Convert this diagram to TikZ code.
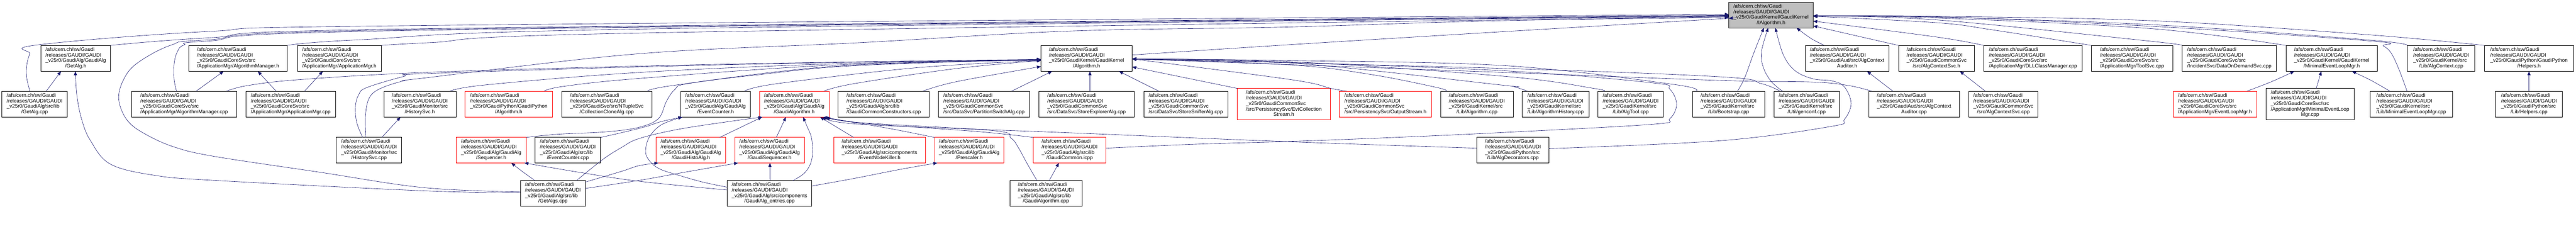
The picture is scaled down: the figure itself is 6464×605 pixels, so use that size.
\documentclass[tikz,border=0pt]{standalone}
\usepackage{fontspec}
\setmainfont{Liberation Sans}
\usetikzlibrary{arrows.meta}
\definecolor{edgeblue}{HTML}{191970}
\definecolor{rootgray}{HTML}{BFBFBF}
\newcommand\nodefont{\fontsize{12.8}{13.9}\selectfont}
% name, x1, x2, y1, y2, style, middle line(s), last (centred) line
\newcommand\depbox[8]{\node[#6, minimum width={(#3-#2)*1pt}, minimum height={(#5-#4)*1pt}] (#1) at ({(#2+#3)/2},{(#4+#5)/2}) {\begin{tabular}{@{}l@{}}/afs/cern.ch/sw/Gaudi\\/releases/GAUDI/GAUDI\\#7\\\multicolumn{1}{@{}c@{}}{#8}\end{tabular}};}
\tikzset{
  box/.style={draw=black, line width=1pt, inner sep=0pt, outer sep=0pt, font=\nodefont, text=black},
  redbox/.style={box, draw=red},
  rootbox/.style={box, fill=rootgray},
  dep/.style={draw=edgeblue, line width=0.8pt, -{Triangle[length=10pt,width=8pt]}}
}
\begin{document}
\begin{tikzpicture}[x=1pt,y=-1pt]
\useasboundingbox (0,0) rectangle (6464,605);
\fill[white] (0,0) rectangle (6464,605);

% ---------- nodes ----------
\depbox{root}{4338}{4550}{6}{70}{rootbox}{\_v25r0/GaudiKernel/GaudiKernel}{/IAlgorithm.h}
% row 1
\depbox{getalgh}{103}{277}{114}{179}{box}{\_v25r0/GaudiAlg/GaudiAlg}{/GetAlg.h}
\depbox{algmgrh}{474}{721}{114}{179}{box}{\_v25r0/GaudiCoreSvc/src}{/ApplicationMgr/AlgorithmManager.h}
\depbox{appmgrh}{746}{957}{114}{179}{box}{\_v25r0/GaudiCoreSvc/src}{/ApplicationMgr/ApplicationMgr.h}
\depbox{algh}{2612}{2841}{114}{179}{box}{\_v25r0/GaudiKernel/GaudiKernel}{/Algorithm.h}
\depbox{acaudh}{4530}{4740}{114}{179}{box}{\_v25r0/GaudiAud/src/AlgContext}{Auditor.h}
\depbox{acsvch}{4764}{4955}{114}{179}{box}{\_v25r0/GaudiCommonSvc}{/src/AlgContextSvc.h}
\depbox{dll}{4978}{5225}{114}{179}{box}{\_v25r0/GaudiCoreSvc/src}{/ApplicationMgr/DLLClassManager.cpp}
\depbox{toolsvc}{5248}{5452}{114}{179}{box}{\_v25r0/GaudiCoreSvc/src}{/ApplicationMgr/ToolSvc.cpp}
\depbox{dod}{5476}{5712}{114}{179}{box}{\_v25r0/GaudiCoreSvc/src}{/IncidentSvc/DataOnDemandSvc.cpp}
\depbox{melmh}{5736}{5966}{114}{179}{box}{\_v25r0/GaudiKernel/GaudiKernel}{/MinimalEventLoopMgr.h}
\depbox{actx}{6041}{6210}{114}{179}{box}{\_v25r0/GaudiKernel/src}{/Lib/AlgContext.cpp}
\depbox{helpersh}{6234}{6458}{114}{179}{box}{\_v25r0/GaudiPython/GaudiPython}{/Helpers.h}
% row 2
\depbox{getalgcpp}{5}{169}{229}{294}{box}{\_v25r0/GaudiAlg/src/lib}{/GetAlg.cpp}
\depbox{algmgrcpp}{330}{594}{229}{294}{box}{\_v25r0/GaudiCoreSvc/src}{/ApplicationMgr/AlgorithmManager.cpp}
\depbox{appmgrcpp}{617}{842}{229}{294}{box}{\_v25r0/GaudiCoreSvc/src}{/ApplicationMgr/ApplicationMgr.cpp}
\depbox{histh}{963}{1144}{229}{294}{box}{\_v25r0/GaudiMonitor/src}{/HistorySvc.h}
\depbox{pyalgh}{1167}{1386}{229}{294}{redbox}{\_v25r0/GaudiPython/GaudiPython}{/Algorithm.h}
\depbox{clone}{1409}{1636}{229}{294}{box}{\_v25r0/GaudiSvc/src/NTupleSvc}{/CollectionCloneAlg.cpp}
\depbox{evcnth}{1708}{1883}{229}{294}{box}{\_v25r0/GaudiAlg/GaudiAlg}{/EventCounter.h}
\depbox{gah}{1906}{2080}{229}{294}{redbox}{\_v25r0/GaudiAlg/GaudiAlg}{/GaudiAlgorithm.h}
\depbox{gcc}{2103}{2332}{229}{294}{box}{\_v25r0/GaudiAlg/src/lib}{/GaudiCommonConstructors.cpp}
\depbox{psa}{2355}{2583}{229}{294}{box}{\_v25r0/GaudiCommonSvc}{/src/DataSvc/PartitionSwitchAlg.cpp}
\depbox{sea}{2607}{2846}{229}{294}{box}{\_v25r0/GaudiCommonSvc}{/src/DataSvc/StoreExplorerAlg.cpp}
\depbox{ssa}{2870}{3081}{229}{294}{box}{\_v25r0/GaudiCommonSvc}{/src/DataSvc/StoreSnifferAlg.cpp}
\depbox{ecs}{3105}{3338}{222}{301}{redbox}{\_v25r0/GaudiCommonSvc\\/src/PersistencySvc/EvtCollection}{Stream.h}
\depbox{os}{3361}{3592}{229}{294}{redbox}{\_v25r0/GaudiCommonSvc}{/src/PersistencySvc/OutputStream.h}
\depbox{algcpp}{3615}{3797}{229}{294}{box}{\_v25r0/GaudiKernel/src}{/Lib/Algorithm.cpp}
\depbox{ahist}{3820}{3987}{229}{294}{box}{\_v25r0/GaudiKernel/src}{/Lib/AlgorithmHistory.cpp}
\depbox{algtool}{4010}{4174}{229}{294}{box}{\_v25r0/GaudiKernel/src}{/Lib/AlgTool.cpp}
\depbox{boot}{4247}{4428}{229}{294}{box}{\_v25r0/GaudiKernel/src}{/Lib/Bootstrap.cpp}
\depbox{genconf}{4451}{4616}{229}{294}{box}{\_v25r0/GaudiKernel/src}{/Util/genconf.cpp}
\depbox{acaudcpp}{4689}{4917}{229}{294}{box}{\_v25r0/GaudiAud/src/AlgContext}{Auditor.cpp}
\depbox{acsvccpp}{4940}{5114}{229}{294}{box}{\_v25r0/GaudiCommonSvc}{/src/AlgContextSvc.cpp}
\depbox{elmh}{5453}{5663}{229}{294}{redbox}{\_v25r0/GaudiCoreSvc/src}{/ApplicationMgr/EventLoopMgr.h}
\depbox{melmcpp}{5686}{5907}{222}{301}{box}{\_v25r0/GaudiCoreSvc/src\\/ApplicationMgr/MinimalEventLoop}{Mgr.cpp}
\depbox{melmlib}{5947}{6154}{229}{294}{box}{\_v25r0/GaudiKernel/src}{/Lib/MinimalEventLoopMgr.cpp}
\depbox{helperscpp}{6262}{6430}{229}{294}{box}{\_v25r0/GaudiPython/src}{/Lib/Helpers.cpp}
% row 3
\depbox{histcpp}{844}{1008}{345}{409}{box}{\_v25r0/GaudiMonitor/src}{/HistorySvc.cpp}
\depbox{seqh}{1145}{1320}{345}{409}{redbox}{\_v25r0/GaudiAlg/GaudiAlg}{/Sequencer.h}
\depbox{evcntcpp}{1343}{1507}{345}{409}{box}{\_v25r0/GaudiAlg/src/lib}{/EventCounter.cpp}
\depbox{gha}{1646}{1821}{345}{409}{redbox}{\_v25r0/GaudiAlg/GaudiAlg}{/GaudiHistoAlg.h}
\depbox{gseq}{1844}{2018}{345}{409}{redbox}{\_v25r0/GaudiAlg/GaudiAlg}{/GaudiSequencer.h}
\depbox{enk}{2092}{2322}{345}{409}{redbox}{\_v25r0/GaudiAlg/src/components}{/EventNodeKiller.h}
\depbox{presc}{2345}{2519}{345}{409}{redbox}{\_v25r0/GaudiAlg/GaudiAlg}{/Prescaler.h}
\depbox{gcicpp}{2593}{2775}{345}{409}{redbox}{\_v25r0/GaudiAlg/src/lib}{/GaudiCommon.icpp}
\depbox{algdec}{3706}{3887}{345}{409}{box}{\_v25r0/GaudiPython/src}{/Lib/AlgDecorators.cpp}
% row 4
\depbox{getalgs}{1306}{1469}{453}{518}{box}{\_v25r0/GaudiAlg/src/lib}{/GetAlgs.cpp}
\depbox{gaent}{1825}{2037}{453}{518}{box}{\_v25r0/GaudiAlg/src/components}{/GaudiAlg\_entries.cpp}
\depbox{gacpp}{2534}{2715}{453}{518}{box}{\_v25r0/GaudiAlg/src/lib}{/GaudiAlgorithm.cpp}

% ---------- edges into IAlgorithm.h (left) ----------
\draw[dep] plot[smooth, tension=0.6] coordinates {(getalgcpp.north -| 75,0) (67,195) (67,165) (75,135) (92,113) (523,79) (1063,64) (root.west |- 0,36)};
\draw[dep] plot[smooth, tension=0.6] coordinates {(getalgh.north east) (523,95) (1063,72) (root.west |- 0,38)};
\draw[dep] plot[smooth, tension=0.6] coordinates {(getalgs.west |- 0,482) (1063,471) (800,432) (540,393) (440,370) (367,338) (320,303) (298,250) (310,200) (345,158) (430,113) (523,100) (1063,74) (root.west |- 0,39)};
\draw[dep] plot[smooth, tension=0.6] coordinates {(algmgrcpp.north -| 443,0) (437,200) (437,160) (445,130) (462,113) (523,103) (1063,76) (root.west |- 0,40)};
\draw[dep] plot[smooth, tension=0.6] coordinates {(algmgrh.north east) (900,100) (1603,73) (root.west |- 0,41)};
\draw[dep] plot[smooth, tension=0.6] coordinates {(appmgrh.north east) (1080,107) (1603,83) (root.west |- 0,42)};
\draw[dep] plot[smooth, tension=0.6] coordinates {(histcpp.north -| 918,0) (917,290) (927,245) (955,222) (1013,203) (1063,196) (1602,135) (2160,107) (2683,78) (3223,68) (3763,52) (root.west |- 0,44)};
\draw[dep] plot[smooth, tension=0.6] coordinates {(algh.east |- 0,138) (3223,113) (3763,80) (4303,48) (root.west |- 0,46)};

% ---------- left group ----------
\draw[dep] (getalgcpp.north -| 116,0) -- (getalgh.south -| 153,0);
\draw[dep] plot[smooth, tension=0.6] coordinates {(getalgs.west |- 0,484) (1063,479) (540,453) (387,440) (277,412) (227,353) (205,300) (193,240) (getalgh.south -| 189,0)};
\draw[dep] (algmgrcpp.north -| 492,0) -- (algmgrh.south -| 561,0);
\draw[dep] (appmgrcpp.north -| 693,0) -- (algmgrh.south -| 647,0);
\draw[dep] (appmgrcpp.north -| 764,0) -- (appmgrh.south -| 810,0);
\draw[dep] (histcpp.north -| 958,0) -- (histh.south -| 1005,0);

% ---------- edges into Algorithm.h ----------
\draw[dep] plot[smooth, tension=0.6] coordinates {(algmgrcpp.north -| 568,0) (620,215) (750,200) (1063,182) (1602,166) (2100,156) (algh.west |- 0,149)};
\draw[dep] plot[smooth, tension=0.6] coordinates {(histcpp.north -| 910,0) (895,307) (892,267) (900,238) (920,220) (1013,192) (1063,185) (1602,168) (2100,157) (algh.west |- 0,150)};
\draw[dep] plot[smooth, tension=0.6] coordinates {(histh.north -| 1129,0) (1220,213) (1602,182) (2100,160) (algh.west |- 0,150)};
\draw[dep] plot[smooth, tension=0.6] coordinates {(pyalgh.north -| 1365,0) (1413,217) (1603,197) (2100,163) (algh.west |- 0,151)};
\draw[dep] plot[smooth, tension=0.6] coordinates {(clone.north -| 1625,0) (1700,213) (2100,166) (algh.west |- 0,151)};
\draw[dep] plot[smooth, tension=0.6] coordinates {(evcnth.north -| 1868,0) (1950,210) (2300,170) (algh.west |- 0,152)};
\draw[dep] plot[smooth, tension=0.6] coordinates {(gah.north -| 2067,0) (2143,210) (2400,172) (algh.west |- 0,152)};
\draw[dep] plot[smooth, tension=0.6] coordinates {(gcc.north -| 2315,0) (2400,205) (algh.west |- 0,167)};
\draw[dep] plot[smooth, tension=0.6] coordinates {(seqh.north east) (1400,337) (1520,331) (1602,320) (1652,298) (1672,255) (1693,225) (1725,210) (1900,188) (2143,165) (algh.west |- 0,149)};
\draw[dep] (psa.north -| 2538,0) -- (algh.south -| 2640,0);
\draw[dep] (sea.north -| 2735,0) -- (algh.south -| 2735,0);
\draw[dep] (ssa.north -| 2908,0) -- (algh.south -| 2808,0);
\draw[dep] (ecs.north west) -- (algh.east |- 0,168);
\draw[dep] plot[smooth, tension=0.6] coordinates {(os.north -| 3380,0) (3340,222) (3240,200) (algh.east |- 0,148)};
\draw[dep] plot[smooth, tension=0.6] coordinates {(algcpp.north -| 3628,0) (3607,220) (3440,187) (3240,163) (algh.east |- 0,148)};
\draw[dep] plot[smooth, tension=0.6] coordinates {(ahist.north -| 3833,0) (3800,218) (3763,213) (3240,158) (algh.east |- 0,148)};
\draw[dep] plot[smooth, tension=0.6] coordinates {(algtool.north -| 4023,0) (4000,222) (3780,192) (3240,155) (algh.east |- 0,148)};
\draw[dep] plot[smooth, tension=0.6] coordinates {(gcicpp.east |- 0,372) (3000,362) (3240,355) (3500,345) (3763,333) (4147,312) (4190,298) (4207,262) (4190,224) (4147,208) (3780,178) (3240,157) (algh.east |- 0,148)};
\draw[dep] plot[smooth, tension=0.6] coordinates {(boot.north -| 4255,0) (4200,212) (3780,165) (3240,152) (algh.east |- 0,148)};
\draw[dep] plot[smooth, tension=0.6] coordinates {(genconf.north -| 4467,0) (4420,210) (4320,193) (3780,172) (algh.east |- 0,148)};
\draw[dep] plot[smooth, tension=0.6] coordinates {(acaudcpp.north -| 4697,0) (4640,215) (4550,206) (4320,202) (3780,182) (algh.east |- 0,148)};

% ---------- edges into IAlgorithm.h (bottom) ----------
\draw[dep] plot[smooth, tension=0.6] coordinates {(boot.north -| 4360,0) (4378,195) (4400,135) (root.south -| 4426,0)};
\draw[dep] plot[smooth, tension=0.6] coordinates {(genconf.north -| 4473,0) (4445,205) (4425,170) (4420,130) (root.south -| 4437,0)};
\draw[dep] plot[smooth, tension=0.6] coordinates {(algdec.east |- 0,373) (4320,353) (4597,317) (4628,300) (4645,260) (4628,218) (4597,203) (4550,198) (4505,178) (4475,138) (root.south -| 4455,0)};
\draw[dep] plot[smooth, tension=0.6] coordinates {(acaudh.north -| 4578,0) (4545,97) (root.south -| 4508,0)};
\draw[dep] (acaudcpp.north -| 4750,0) -- (acaudh.south -| 4685,0);

% ---------- edges into IAlgorithm.h (right) ----------
\draw[dep] plot[smooth, tension=0.6] coordinates {(acsvch.north west) (4650,88) (root.east |- 0,65)};
\draw[dep] (acsvccpp.north -| 4982,0) -- (acsvch.south -| 4918,0);
\draw[dep] plot[smooth, tension=0.6] coordinates {(dll.north west) (4860,93) (root.east |- 0,53)};
\draw[dep] plot[smooth, tension=0.6] coordinates {(toolsvc.north west) (5000,75) (4860,57) (root.east |- 0,41)};
\draw[dep] plot[smooth, tension=0.6] coordinates {(dod.north west) (5383,102) (4860,50) (root.east |- 0,40)};
\draw[dep] plot[smooth, tension=0.6] coordinates {(melmh.north west) (5400,72) (4860,45) (root.east |- 0,40)};
\draw[dep] plot[smooth, tension=0.6] coordinates {(actx.north west) (5940,100) (5400,62) (4860,43) (root.east |- 0,40)};
\draw[dep] plot[smooth, tension=0.6] coordinates {(helpersh.north west) (5940,87) (5400,52) (4860,41) (root.east |- 0,40)};
\draw[dep] plot[smooth, tension=0.6] coordinates {(melmlib.north -| 6040,0) (6020,175) (6000,133) (5980,115) (5950,103) (5400,66) (4860,42) (root.east |- 0,40)};
\draw[dep] plot[smooth, tension=0.6] coordinates {(melmlib.north -| 5997,0) (5950,202) (melmh.south -| 5902,0)};
\draw[dep] plot[smooth, tension=0.6] coordinates {(elmh.north -| 5638,0) (5700,205) (melmh.south -| 5757,0)};
\draw[dep] (melmcpp.north -| 5812,0) -- (melmh.south -| 5825,0);
\draw[dep] (helperscpp.north -| 6346,0) -- (helpersh.south -| 6346,0);

% ---------- GaudiAlg group ----------
\draw[dep] plot[smooth, tension=0.6] coordinates {(evcntcpp.north east) (1560,333) (1620,318) (1660,305) (evcnth.south -| 1712,0)};
\draw[dep] plot[smooth, tension=0.6] coordinates {(gaent.west |- 0,470) (1763,457) (1703,440) (1653,423) (1627,400) (1620,377) (1630,343) (1660,313) (evcnth.south -| 1712,0)};
\draw[dep] plot[smooth, tension=0.6] coordinates {(getalgs.north -| 1342,0) (1310,430) (seqh.south -| 1283,0)};
\draw[dep] plot[smooth, tension=0.6] coordinates {(getalgs.east |- 0,457) (1560,430) (1603,416) (gha.south -| 1652,0)};
\draw[dep] plot[smooth, tension=0.6] coordinates {(getalgs.east |- 0,473) (1603,453) (1720,432) (gseq.south -| 1852,0)};
\draw[dep] plot[smooth, tension=0.6] coordinates {(getalgs.north -| 1447,0) (1513,400) (1560,370) (1603,348) (1700,325) (1830,305) (gah.south -| 1913,0)};
\draw[dep] plot[smooth, tension=0.6] coordinates {(gaent.west |- 0,477) (1603,455) (1450,432) (seqh.south -| 1316,0)};
\draw[dep] (gaent.north -| 1932,0) -- (gseq.south -| 1932,0);
\draw[dep] plot[smooth, tension=0.6] coordinates {(gaent.north -| 1990,0) (2020,433) (2037,400) (2037,350) (2025,317) (gah.south -| 2015,0)};
\draw[dep] plot[smooth, tension=0.6] coordinates {(gaent.east |- 0,467) (2143,448) (2260,425) (presc.south -| 2352,0)};
\draw[dep] (gha.north -| 1806,0) -- (gah.south -| 1912,0);
\draw[dep] (gseq.north -| 1948,0) -- (gah.south -| 1972,0);
\draw[dep] (enk.north -| 2142,0) -- (gah.south -| 2058,0);
\draw[dep] plot[smooth, tension=0.6] coordinates {(presc.north west) (2250,326) (2160,310) (gah.south -| 2066,0)};
\draw[dep] plot[smooth, tension=0.6] coordinates {(gcicpp.north west) (2450,330) (2160,309) (gah.south -| 2070,0)};
\draw[dep] plot[smooth, tension=0.6] coordinates {(gacpp.north -| 2602,0) (2577,410) (2555,370) (2537,347) (2493,328) (2160,308) (gah.south -| 2073,0)};
\draw[dep] (gacpp.north -| 2633,0) -- (gcicpp.south -| 2657,0);
\draw[dep] plot[smooth, tension=0.6] coordinates {(algdec.west |- 0,372) (3240,356) (2700,334) (2160,312) (gah.south -| 2076,0)};
\end{tikzpicture}
\end{document}
